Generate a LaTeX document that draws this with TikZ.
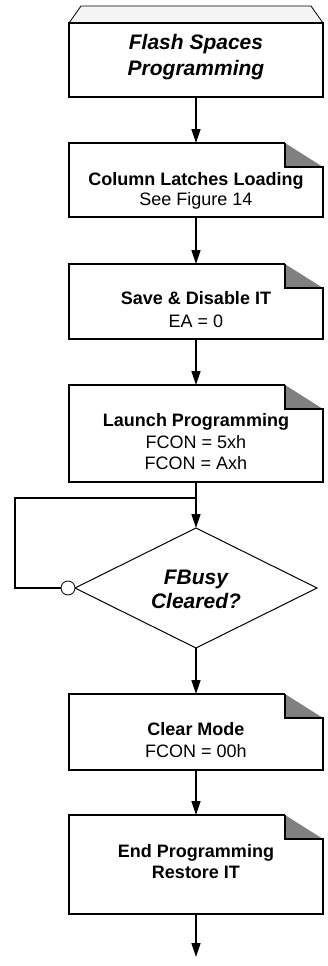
\documentclass[tikz,border=0pt]{standalone}
\usepackage{fontspec}
\setmainfont{Liberation Sans}
\usetikzlibrary{arrows.meta,shapes.geometric}
\definecolor{eargray}{HTML}{808080}
\definecolor{capgray}{HTML}{F4F4F4}
\newcommand\myearbox[1]{%
  \path (#1.north east) ++(-38,0) coordinate (#1-ea) ++(0,24) coordinate (#1-eb) ++(38,0) coordinate (#1-ec);
  \fill[eargray] (#1-ea) -- (#1-eb) -- (#1-ec) -- cycle;
  \draw[boxline] (#1-ea) -- (#1.north west) -- (#1.south west) -- (#1.south east) -- (#1-ec) -- (#1-eb) -- (#1-ea);
}
\begin{document}
\begin{tikzpicture}[x=1pt,y=-1pt,
  boxnode/.style={minimum width=254pt, inner sep=0pt, outer sep=0pt},
  boxline/.style={line width=1.5pt, line join=miter},
  txt/.style={anchor=base, inner sep=0pt, font=\fontsize{18}{21}\selectfont},
  txtb/.style={anchor=base, inner sep=0pt, font=\fontsize{18}{21}\selectfont\bfseries},
  ital/.style={anchor=base, inner sep=0pt, font=\fontsize{21}{26}\selectfont\bfseries\itshape},
  flow/.style={line width=1.5pt, -{Triangle[length=14pt,width=9pt]}},
  plain/.style={line width=1.5pt, line join=miter}
]
\useasboundingbox (0,0) rectangle (327,966);

% start box
\node[boxnode, minimum height=74pt] (b1) at (196,60) {};
\path (b1.north west) ++(12,-17) coordinate (b1tl);
\path (b1.north east) ++(-12,-17) coordinate (b1tr);
\draw[line width=0.8pt, fill=capgray] (b1.north west) -- (b1tl) -- (b1tr) -- (b1.north east) -- cycle;
\draw[boxline] (b1.north west) rectangle (b1.south east);
\node[ital] (t1a) at (196,49.5) {Flash Spaces};
\node[ital] (t1b) at (196,75.5) {Programming};

% box 2
\node[boxnode, minimum height=74pt] (b2) at (196,180) {};
\myearbox{b2}
\node[txtb] (t2a) at (196,185.5) {Column Latches Loading};
\node[txt] (t2b) at (196,205.5) {See Figure 14};

% box 3
\node[boxnode, minimum height=75pt] (b3) at (196,301.5) {};
\myearbox{b3}
\node[txtb] (t3a) at (196,304.5) {Save \& Disable IT};
\node[txt] (t3b) at (196,327.5) {EA = 0};

% box 4
\node[boxnode, minimum height=97pt] (b4) at (196,433.5) {};
\myearbox{b4}
\node[txtb] (t4a) at (196,426.5) {Launch Programming};
\node[txt] (t4b) at (196,448.5) {FCON = 5xh};
\node[txt] (t4c) at (196,469.5) {FCON = Axh};

% decision
\node[diamond, draw, line width=1pt, minimum width=242pt, minimum height=120pt, inner sep=0pt, outer sep=0pt] (d) at (196,588) {};
\node[ital] (d1) at (196,584.5) {FBusy};
\node[ital] (d2) at (196,608.5) {Cleared?};
\node[circle, draw, line width=0.8pt, fill=white, minimum size=14pt, inner sep=0pt, outer sep=0pt] (c) at (68,588) {};

% box 5
\node[boxnode, minimum height=76pt] (b5) at (196,732) {};
\myearbox{b5}
\node[txtb] (t5a) at (196,735.5) {Clear Mode};
\node[txt] (t5b) at (196,757.5) {FCON = 00h};

% box 6
\node[boxnode, minimum height=99pt] (b6) at (196,864.5) {};
\myearbox{b6}
\node[txtb] (t6a) at (196,857.5) {End Programming};
\node[txtb] (t6b) at (196,878.5) {Restore IT};

% connectors
\coordinate (j) at (196,498);
\coordinate (lj1) at (15,498);
\coordinate (lj2) at (15,588);
\coordinate (e) at (196,957);
\draw[flow] (b1.south) -- (b2.north);
\draw[flow] (b2.south) -- (b3.north);
\draw[flow] (b3.south) -- (b4.north);
\draw[plain] (b4.south) -- (j);
\draw[flow] (j) -- (d.north);
\draw[plain] (j) -- (lj1) -- (lj2) -- (c.west);
\draw[flow] (d.south) -- (b5.north);
\draw[flow] (b5.south) -- (b6.north);
\draw[flow] (b6.south) -- (e);
\end{tikzpicture}
\end{document}
